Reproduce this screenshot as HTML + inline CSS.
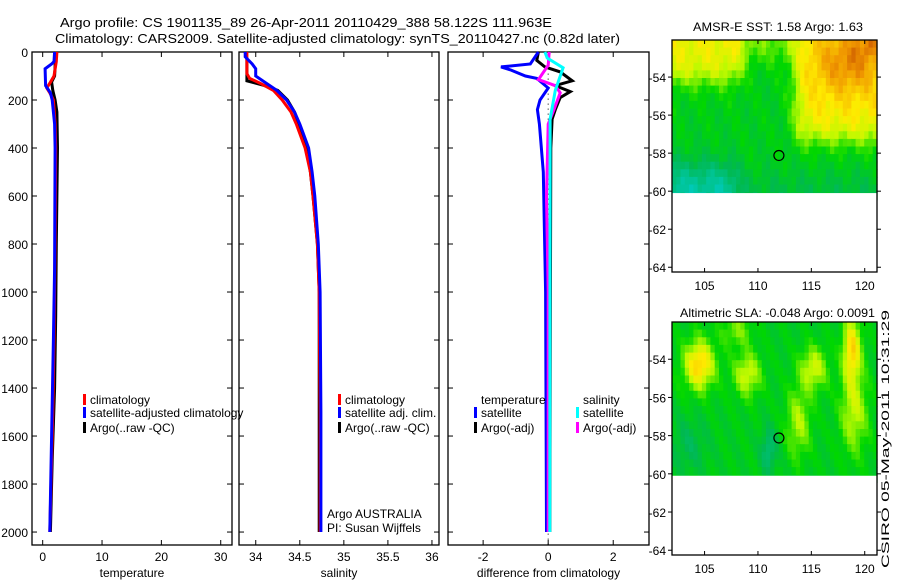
<!DOCTYPE html>
<html><head><meta charset="utf-8"><style>
html,body{margin:0;padding:0;background:#fff}
svg{display:block;font-family:"Liberation Sans",sans-serif}
</style></head><body>
<svg id="fig" width="900" height="580" viewBox="0 0 900 580" xmlns="http://www.w3.org/2000/svg">
<text x="60" y="27" font-size="13" textLength="492" lengthAdjust="spacingAndGlyphs">Argo profile: CS 1901135_89 26-Apr-2011 20110429_388 58.122S 111.963E</text>
<text x="55" y="43" font-size="13" textLength="565" lengthAdjust="spacingAndGlyphs">Climatology: CARS2009. Satellite-adjusted climatology: synTS_20110427.nc (0.82d later)</text>
<g id="plots"></g>
<text x="693" y="31" font-size="12" textLength="170" lengthAdjust="spacingAndGlyphs">AMSR-E SST: 1.58 Argo: 1.63</text>
<text x="680" y="317" font-size="12" textLength="195" lengthAdjust="spacingAndGlyphs">Altimetric SLA: -0.048 Argo: 0.0091</text>
<text transform="translate(889,568) rotate(-90)" font-size="11" textLength="258" lengthAdjust="spacingAndGlyphs">CSIRO 05-May-2011 10:31:29</text>
</svg>
<script>
// ---- data ----
const depthTicks=[0,200,400,600,800,1000,1200,1400,1600,1800,2000];
const tempTicks=[0,10,20,30];
const salTicks=[34,34.5,35,35.5,36];
const salTickLabels=["34","34.5","35","35.5","36"];
const diffTicks=[-2,0,2];
const lonTicks=[105,110,115,120];
const latTicks=[-54,-56,-58,-60,-62,-64];
// temperature profiles [depth, value]
const tempClimDepth=[0,40,100,130,150,170,200,300,400,800,1200,1500,1800,2000];
const tempClimVal=[2.4,2.3,1.9,1.2,0.7,1.2,1.8,2.1,2.2,2.1,1.9,1.7,1.4,1.2];
const tempSatDepth=[0,40,50,70,140,170,200,300,400,900,1200,1600,2000];
const tempSatVal=[2.0,1.9,1.5,0.4,0.5,1.3,1.6,2.0,2.1,2.0,1.8,1.5,1.2];
const tempArgoDepth=[0,60,100,125,160,200,250,400,800,1100,1400,1700,2000];
const tempArgoVal=[2.1,2.1,2.0,1.5,1.7,2.1,2.4,2.5,2.3,2.2,2.0,1.6,1.3];
// salinity profiles
const salClimDepth=[0,90,110,130,160,200,250,300,400,500,600,800,1000,1500,2000];
const salClimVal=[33.9,33.9,33.93,34.05,34.2,34.3,34.4,34.46,34.56,34.62,34.65,34.7,34.72,34.73,34.73];
const salSatDepth=[0,20,50,70,100,130,160,200,250,300,400,500,600,800,1000,1500,2000];
const salSatVal=[33.88,33.88,33.96,34.0,34.0,34.12,34.24,34.35,34.44,34.5,34.6,34.64,34.67,34.71,34.73,34.74,34.74];
const salArgoDepth=[0,30,120,140,160,200,250,300,400,500,600,800,1000,1500,2000];
const salArgoVal=[33.88,33.9,33.9,34.1,34.25,34.36,34.44,34.49,34.58,34.62,34.65,34.7,34.72,34.72,34.72];
// differences
const dTSatDepth=[0,50,62,75,100,110,150,200,240,300,500,1000,2000];
const dTSatVal=[-0.3,-0.55,-1.45,-1.15,-0.7,-0.35,0,-0.25,-0.33,-0.27,-0.15,-0.08,-0.05];
const dTArgoDepth=[0,35,62,83,120,140,165,190,240,280,400,2000];
const dTArgoVal=[-0.3,-0.35,-0.1,0.37,0.74,0.22,0.68,0.37,0.22,0.12,0.08,0.05];
const dSSatDepth=[0,25,66,160,280,400,2000];
const dSSatVal=[-0.1,-0.03,0.46,0.22,0.06,0.06,0.05];
const dSArgoDepth=[0,55,115,140,170,240,300,600,1000,2000];
const dSArgoVal=[0.03,0,-0.3,0.22,0.37,0.18,0,-0.05,0,0];

const NS='http://www.w3.org/2000/svg';
const root=document.getElementById('plots');
function mk(tag,attrs,parent){const e=document.createElementNS(NS,tag);for(const k in attrs)e.setAttribute(k,attrs[k]);(parent||root).appendChild(e);return e;}
function txt(s,x,y,size,anchor,parent){const t=mk('text',{x:x,y:y,'font-size':size,'text-anchor':anchor||'start'},parent);t.textContent=s;return t;}

// depth axis
const Y0=52,Y1=545,D0=0,D1=2054;
function yD(d){return Y0+(d-D0)/(D1-D0)*(Y1-Y0);}
function panel(name,x0,x1,v0,v1,ticks,labels,xlabel,showY){
  const g=mk('g',{});
  
  
  const xs=v=>x0+(v-v0)/(v1-v0)*(x1-x0);
  const fr=mk('rect',{x:x0,y:Y0,width:x1-x0,height:Y1-Y0,fill:'none',stroke:'#000','stroke-width':1.3},g);
  
  
  depthTicks.forEach(d=>{
    mk('line',{x1:x0,x2:x0+5,y1:yD(d),y2:yD(d),stroke:'#000'},g);
    mk('line',{x1:x1,x2:x1-5,y1:yD(d),y2:yD(d),stroke:'#000'},g);
    if(showY){const t=txt(String(d),x0-4,yD(d)+5,12,'end',g);
      
      }
  });
  ticks.forEach((v,i)=>{
    mk('line',{x1:xs(v),x2:xs(v),y1:Y1,y2:Y1-5,stroke:'#000'},g);
    mk('line',{x1:xs(v),x2:xs(v),y1:Y0,y2:Y0+5,stroke:'#000'},g);
    const t=txt(labels[i],xs(v),561,12,'middle',g);
    
    
  });
  const xl=txt(xlabel,(x0+x1)/2,577,12,'middle',g);
  
  
  return {g,xs};
}
function line(p,depths,vals,color,name,w){
  const pts=depths.map((d,i)=>p.xs(vals[i]).toFixed(1)+','+yD(d).toFixed(1)).join(' ');
  const l=mk('polyline',{points:pts,fill:'none',stroke:color,'stroke-width':w||3,'stroke-linejoin':'miter'},p.g);
  
  
}
function legendItem(g,x,y,color,label,name){
  if(color){mk('rect',{x:x,y:y-10,width:3,height:11,fill:color},g);}
  const t=txt(label,x+7,y,12,'start',g);
  
  
}

// panel 1 temperature
const p1=panel('temperature-panel',32,232,-1.8,31.9,tempTicks,tempTicks.map(String),'temperature',true);
line(p1,tempArgoDepth,tempArgoVal,'#000','temp-argo-line');
line(p1,tempClimDepth,tempClimVal,'#f00','temp-climatology-line');
line(p1,tempSatDepth,tempSatVal,'#00f','temp-satellite-line');
legendItem(p1.g,83,404,'#f00','climatology','legend-climatology');
legendItem(p1.g,83,417,'#00f','satellite-adjusted climatology','legend-satellite');
legendItem(p1.g,83,432,'#000','Argo(..raw -QC)','legend-argo');

// panel 2 salinity
const p2=panel('salinity-panel',239,439,33.81,36.08,salTicks,salTickLabels,'salinity',false);
line(p2,salArgoDepth,salArgoVal,'#000','sal-argo-line');
line(p2,salClimDepth,salClimVal,'#f00','sal-climatology-line');
line(p2,salSatDepth,salSatVal,'#00f','sal-satellite-line');
legendItem(p2.g,338,404,'#f00','climatology','legend-sal-climatology');
legendItem(p2.g,338,417,'#00f','satellite adj. clim.','legend-sal-satellite');
legendItem(p2.g,338,432,'#000','Argo(..raw -QC)','legend-sal-argo');
const a1=txt('Argo AUSTRALIA',327,518,12,'start',p2.g);


const a2=txt('PI: Susan Wijffels',327,532,12,'start',p2.g);



// panel 3 difference
const p3=panel('difference-panel',448,649,-3.08,3.1,diffTicks,diffTicks.map(String),'difference from climatology',false);
const zl=mk('line',{x1:p3.xs(0),x2:p3.xs(0),y1:yD(90),y2:Y1,stroke:'#000','stroke-dasharray':'1,4'},p3.g);


line(p3,dTArgoDepth,dTArgoVal,'#000','diff-temp-argo-line');
line(p3,dTSatDepth,dTSatVal,'#00f','diff-temp-satellite-line');
line(p3,dSArgoDepth,dSArgoVal,'#f0f','diff-sal-argo-line');
line(p3,dSSatDepth,dSSatVal,'#0ff','diff-sal-satellite-line');
legendItem(p3.g,474,404,null,'temperature','legend-temperature-header');
legendItem(p3.g,474,417,'#00f','satellite','legend-temp-satellite');
legendItem(p3.g,474,432,'#000','Argo(-adj)','legend-temp-argo');
legendItem(p3.g,576,404,null,'salinity','legend-salinity-header');
legendItem(p3.g,576,417,'#0ff','satellite','legend-sal-sat');
legendItem(p3.g,576,432,'#f0f','Argo(-adj)','legend-sal-argo2');

// ---- maps ----
const stops=[[0.1,[0,205,205]],[0.3,[0,185,80]],[0.42,[0,215,0]],[0.55,[190,250,0]],[0.65,[255,235,0]],[0.8,[240,150,0]],[0.95,[175,40,0]]];
function cmap(v){if(v<=stops[0][0])return stops[0][1];for(let i=1;i<stops.length;i++){if(v<=stops[i][0]){const a=stops[i-1],b=stops[i],t=(v-a[0])/(b[0]-a[0]);return a[1].map((c,k)=>Math.round(c+(b[1][k]-c)*t));}}return stops[stops.length-1][1];}
function blob(lon,lat,cx,cy,sx,sy,a){return a*Math.exp(-((lon-cx)*(lon-cx)/(2*sx*sx)+(lat-cy)*(lat-cy)/(2*sy*sy)));}
function S(z){return 1/(1+Math.exp(-z/0.4));}
function f1(lon,lat){let v=0.38;
  v+=0.24*S(lat+54.2)*S(108.5-lon);
  v+=0.26*S(lon-113.5)*S(lat+57.3);
  v+=0.12*S(lat+53)*S(lon-108)*S(113.5-lon);
  v+=blob(lon,lat,118.5,-53.2,2.3,1.2,0.18)+blob(lon,lat,120.8,-52.3,1,0.5,0.12);
  v-=0.16*S(-58.6-lat)*S(108-lon)+0.06*S(-59.2-lat);
  v+=0.025*Math.sin(lon*2.3+lat*1.7)+0.02*Math.sin(lon*5.1-lat*3.3);return v;}
function f2(lon,lat){let v=0.38;
  v+=blob(lon,lat,104.5,-54.3,1,0.9,0.32)+blob(lon,lat,109,-54.8,0.9,0.8,0.2)+blob(lon,lat,115.2,-54.5,0.9,0.8,0.2)+blob(lon,lat,118.8,-53.5,0.6,1.2,0.3)+blob(lon,lat,119,-56.8,0.9,1.5,0.18)+blob(lon,lat,113.8,-57.3,0.8,1.3,0.16)+blob(lon,lat,108,-52.5,1,0.6,0.12);
  v-=blob(lon,lat,111,-58.8,0.5,0.8,0.15)+blob(lon,lat,103.5,-58.5,1.2,1,0.08);
  v+=0.03*Math.sin(lon*3.1+lat*2.3);return v;}
function map(name,x0,y0,x1,y1,fn){
  const g=mk('g',{});
  
  
  const L0=101.95,L1=121.15,T=-52.05,B=-64.25;
  const xs=l=>x0+(l-L0)/(L1-L0)*(x1-x0);
  const ys=la=>y0+(T-la)/(T-B)*(y1-y0);
  const step=0.4;
  for(let la=T;la>-60.1;la-=step){for(let lo=L0;lo<L1;lo+=step){
    const c=cmap(fn(lo+step/2,la-step/2));
    mk('rect',{x:xs(lo).toFixed(1),y:ys(la).toFixed(1),width:(xs(lo+step)-xs(lo)+0.6).toFixed(1),height:(ys(la-step)-ys(la)+0.6).toFixed(1),fill:'rgb('+c.join(',')+')'},g);}}
  mk('rect',{x:x0,y:ys(-60.1),width:x1-x0,height:y1-ys(-60.1),fill:'#fff'},g);
  mk('rect',{x:x0,y:y0,width:x1-x0,height:y1-y0,fill:'none',stroke:'#000','stroke-width':1.3},g);
  lonTicks.forEach(l=>{mk('line',{x1:xs(l),x2:xs(l),y1:y1,y2:y1-4,stroke:'#000'},g);mk('line',{x1:xs(l),x2:xs(l),y1:y0,y2:y0+4,stroke:'#000'},g);
    const t=txt(String(l),xs(l),y1+18,12,'middle',g);
    
    });
  latTicks.forEach(l=>{mk('line',{x1:x0,x2:x0-4,y1:ys(l),y2:ys(l),stroke:'#000'},g);mk('line',{x1:x1,x2:x1+4,y1:ys(l),y2:ys(l),stroke:'#000'},g);
    const t=txt(String(l),x0-6,ys(l)+5,12,'end',g);
    
    });
  const c=mk('circle',{cx:xs(111.963),cy:ys(-58.122),r:5,fill:'none',stroke:'#000','stroke-width':1.2},g);
  
  
}
map('sst-map',672,40,877,272,f1);
map('sla-map',672,322,877,555,f2);
</script>
</body></html>
